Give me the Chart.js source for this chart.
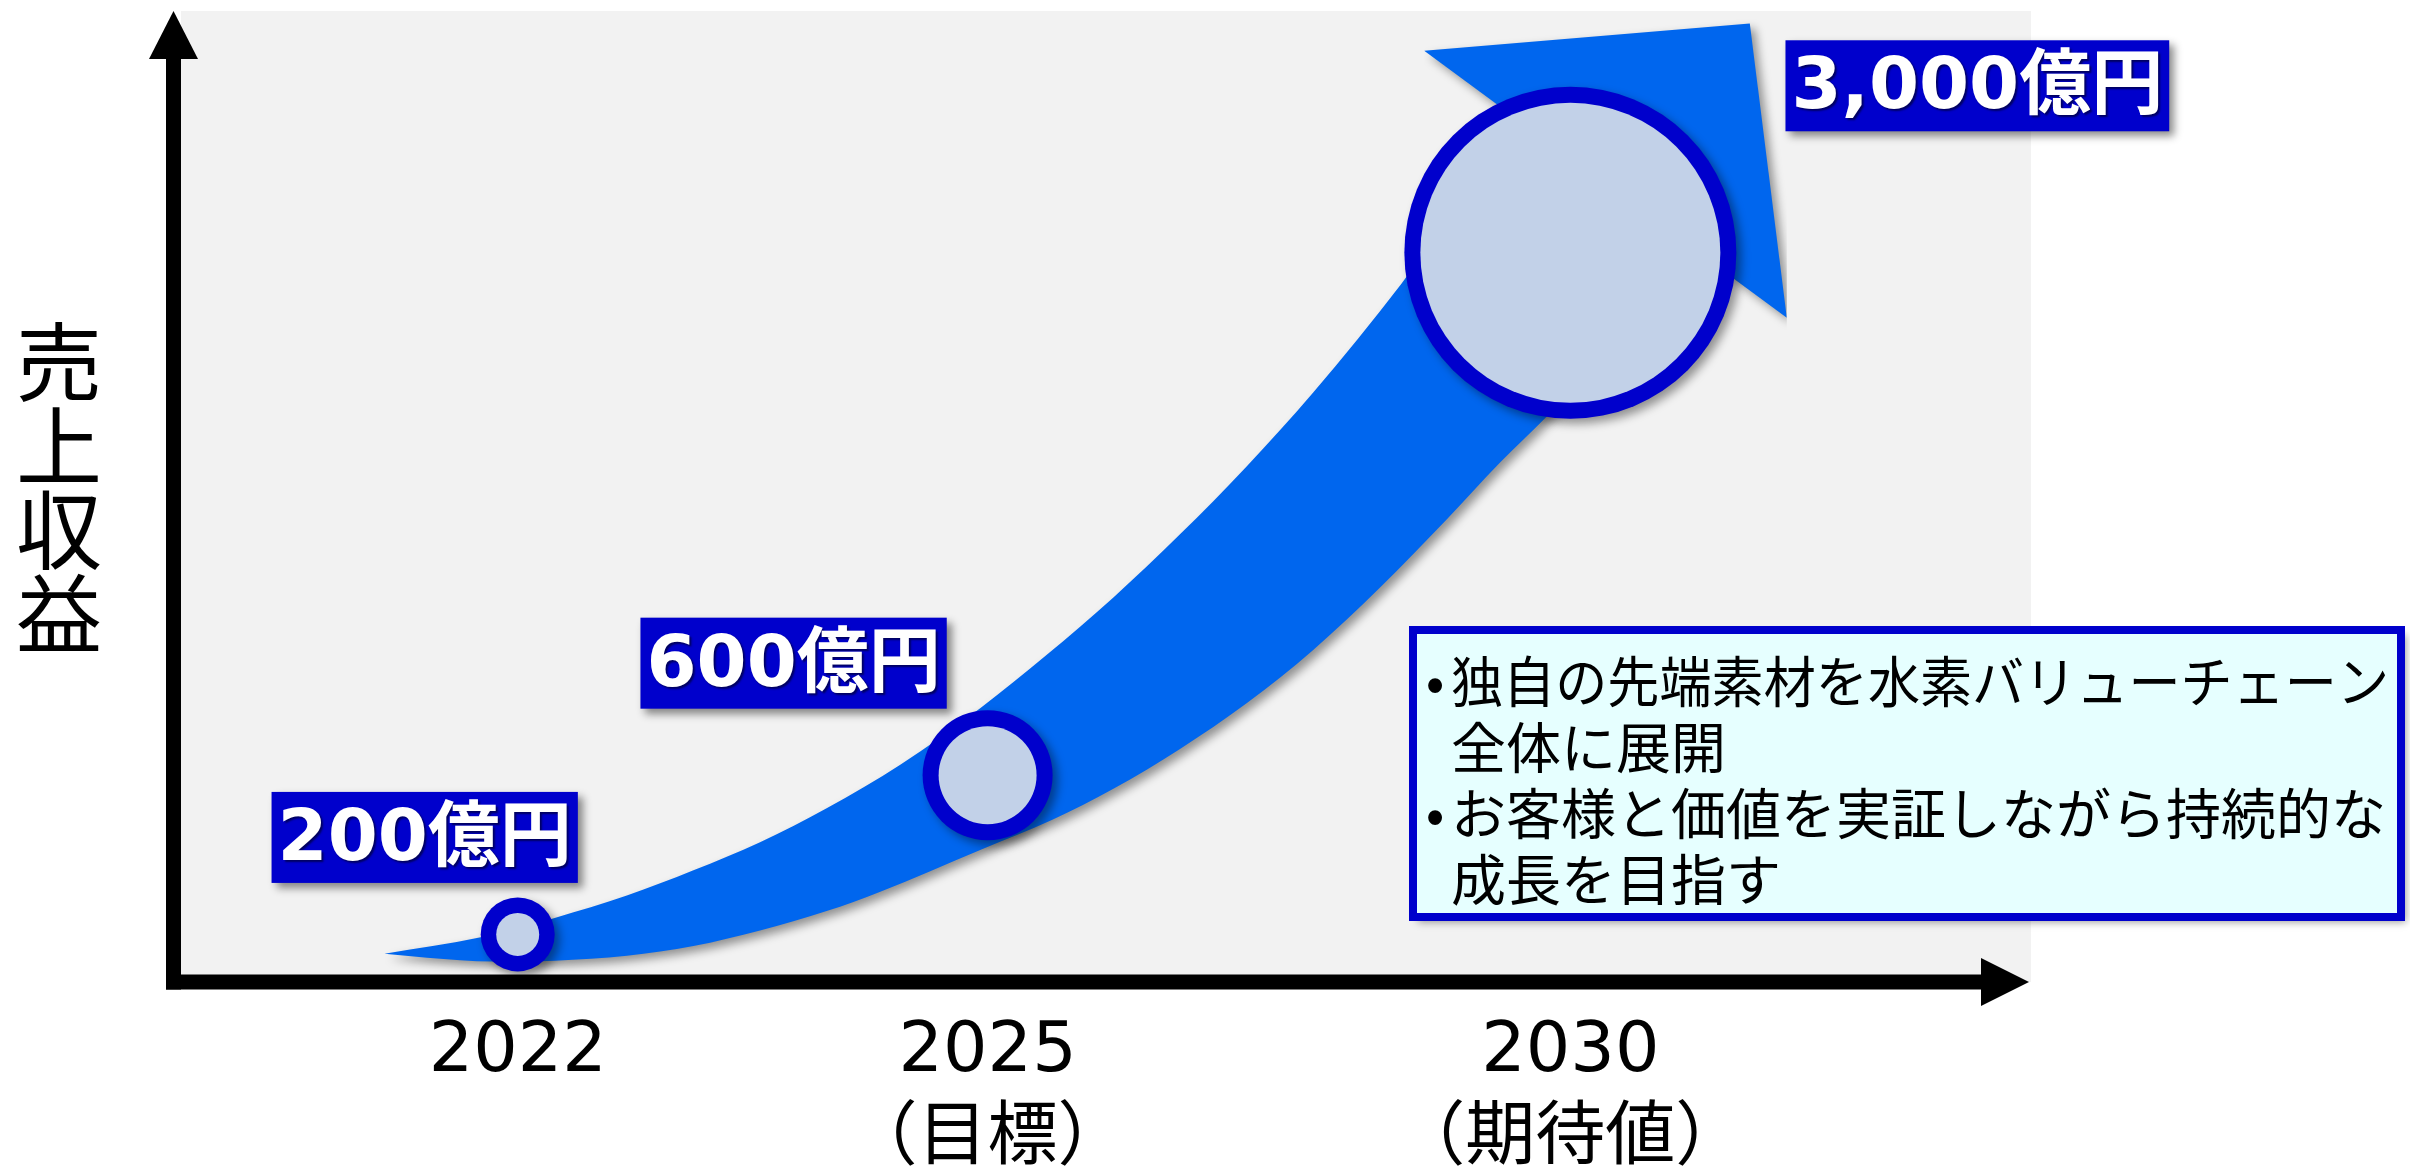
<!DOCTYPE html>
<html lang="ja">
<head>
<meta charset="utf-8">
<title>売上収益</title>
<script src="https://cdn.jsdelivr.net/npm/chart.js@4/dist/chart.umd.min.js"></script>
<style>
  html, body { margin: 0; padding: 0; background: #fff; }
  #wrap { width: 2410px; height: 1168px; position: relative; }
</style>
</head>
<body>
<div id="wrap"><canvas id="growthChart"></canvas></div>
<script>
const years = ["2022", "2025", "2030"];
const yearNotes = ["", "（目標）", "（期待値）"];
const sales = [200, 600, 3000]; // 億円

// where each year's marker sits on the 0-100 grid of the drawing
const markerX = [18.2, 43.6, 75.1];
const markerY = [4.9, 21.3, 75.1];

// outline of the big growth arrow (same 0-100 grid)
// the last two upper points run along the base of the arrow head
const upperX = [11.0, 16.2, 20.2, 24.1, 27.7, 31.3, 34.9, 38.9, 43.2, 46.8, 50.4, 54.0, 57.6, 61.2, 66.0, 72.4, 82.1];
const upperY = [2.9, 4.6, 6.6, 8.9, 11.5, 14.4, 17.9, 22.4, 28.2, 33.7, 39.6, 46.1, 53.1, 60.7, 72.0, 88.7, 74.9];
const lowerX = [11.0, 13.3, 16.9, 20.2, 24.1, 27.7, 31.3, 34.9, 37.8, 43.2, 47.1, 50.4, 54.0, 57.6, 61.2, 64.8, 68.4, 71.3, 73.8, 82.1];
const lowerY = [2.9, 2.5, 2.1, 2.2, 2.7, 3.7, 5.3, 7.3, 9.3, 13.6, 16.7, 19.9, 24.0, 28.7, 34.2, 40.6, 47.6, 53.5, 58.2, 74.9];
const headTopX = [67.2, 84.8, 86.8];
const headTopY = [95.9, 98.7, 68.4];
const headBaseX = [67.2, 86.8];
const headBaseY = [95.9, 68.4];

const yTitle = "売上収益";
const noteLines = [
  "•独自の先端素材を水素バリューチェーン",
  "全体に展開",
  "•お客様と価値を実証しながら持続的な",
  "成長を目指す"
];

const ARROW_BLUE = "#0066EE";
const DARK_BLUE = "#0000CC";

function pts(xs, ys) {
  return xs.map((x, i) => ({ x: x, y: ys[i] }));
}

function edge(xs, ys, fill, curved) {
  return {
    type: "line",
    data: pts(xs, ys),
    borderWidth: 0,
    borderColor: "rgba(0,0,0,0)",
    backgroundColor: ARROW_BLUE,
    pointRadius: 0,
    cubicInterpolationMode: curved ? "monotone" : "default",
    tension: 0,
    fill: fill
  };
}

// label box offsets from each marker, in pixels
const boxOffset = [[-93, -97], [-194, -112], [407, -167]];

function drawAxes(chart) {
  const ctx = chart.ctx;
  const a = chart.chartArea;
  const w = 15;
  const cx = a.left - w / 2;
  const cy = a.bottom;
  ctx.fillStyle = "#000";
  ctx.fillRect(a.left - w, a.top + 46, w, cy + w / 2 - (a.top + 46));
  ctx.beginPath();
  ctx.moveTo(cx, a.top);
  ctx.lineTo(cx - 24.5, a.top + 48);
  ctx.lineTo(cx + 24.5, a.top + 48);
  ctx.closePath();
  ctx.fill();

  ctx.fillRect(a.left - w, cy - w / 2, a.right - 49 - (a.left - w), w);
  ctx.beginPath();
  ctx.moveTo(a.right - 2, cy);
  ctx.lineTo(a.right - 50, cy - 24);
  ctx.lineTo(a.right - 50, cy + 24);
  ctx.closePath();
  ctx.fill();
}

function drawTitle(chart) {
  const ctx = chart.ctx;
  const chars = [...yTitle];
  const pitch = 84;
  const mid = 488.5;
  ctx.save();
  ctx.font = '86px "Noto Sans CJK JP"';
  ctx.fillStyle = "#000";
  ctx.textAlign = "center";
  ctx.textBaseline = "middle";
  chars.forEach(function (c, i) {
    ctx.fillText(c, 59, mid + (i - (chars.length - 1) / 2) * pitch);
  });
  ctx.restore();
}

function drawValueBoxes(chart) {
  const ctx = chart.ctx;
  const x = chart.scales.x;
  const y = chart.scales.y;
  ctx.save();
  ctx.font = 'bold 72px "DejaVu Sans", "Noto Sans CJK JP"';
  ctx.textAlign = "center";
  ctx.textBaseline = "middle";
  for (let i = 0; i < sales.length; i++) {
    const text = sales[i].toLocaleString("en-US") + "億円";
    const cx = x.getPixelForValue(markerX[i]) + boxOffset[i][0];
    const cy = y.getPixelForValue(markerY[i]) + boxOffset[i][1];
    const w = ctx.measureText(text).width + 12;
    const h = 91;
    ctx.save();
    ctx.shadowColor = "rgba(0,0,0,0.45)";
    ctx.shadowBlur = 8;
    ctx.shadowOffsetX = 5;
    ctx.shadowOffsetY = 5;
    ctx.fillStyle = DARK_BLUE;
    ctx.fillRect(cx - w / 2, cy - h / 2, w, h);
    ctx.restore();

    ctx.save();
    ctx.shadowColor = "rgba(0,0,50,0.7)";
    ctx.shadowBlur = 2;
    ctx.shadowOffsetX = 2;
    ctx.shadowOffsetY = 2;
    ctx.fillStyle = "#fff";
    ctx.fillText(text, cx, cy + 4);
    ctx.restore();
  }
  ctx.restore();
}

function drawNote(chart) {
  const ctx = chart.ctx;
  const left = 1413, top = 630, w = 988, h = 287;
  ctx.save();
  ctx.shadowColor = "rgba(0,0,0,0.4)";
  ctx.shadowBlur = 8;
  ctx.shadowOffsetX = 5;
  ctx.shadowOffsetY = 5;
  ctx.fillStyle = "#E6FFFF";
  ctx.fillRect(left, top, w, h);
  ctx.restore();

  ctx.save();
  ctx.lineWidth = 8;
  ctx.strokeStyle = DARK_BLUE;
  ctx.strokeRect(left, top, w, h);

  ctx.font = '55px "Noto Sans CJK JP"';
  ctx.fillStyle = "#000";
  ctx.textBaseline = "middle";
  for (let i = 0; i < noteLines.length; i++) {
    let line = noteLines[i];
    const ly = 681 + i * 66;
    if (line.startsWith("•")) {
      ctx.textAlign = "center";
      ctx.fillText("•", 1435, ly);
      line = line.slice(1);
    }
    ctx.textAlign = "left";
    ctx.fillText(line, 1451, ly, 938);
  }
  ctx.restore();
}

const decor = {
  id: "decor",
  beforeDraw(chart) {
    const ctx = chart.ctx;
    const a = chart.chartArea;
    ctx.save();
    ctx.fillStyle = "#fff";
    ctx.fillRect(0, 0, chart.width, chart.height);
    ctx.fillStyle = "#F2F2F2";
    ctx.fillRect(a.left, a.top, a.right - a.left, a.bottom - a.top);
    ctx.restore();
  },
  beforeDatasetsDraw(chart) {
    const ctx = chart.ctx;
    ctx.save();
    ctx.shadowColor = "rgba(0,0,0,0.4)";
    ctx.shadowBlur = 10;
    ctx.shadowOffsetX = 5;
    ctx.shadowOffsetY = 5;
  },
  beforeDatasetDraw(chart, args) {
    // inner discs of the markers sit flat, no shadow
    if (args.index === 0) chart.ctx.shadowColor = "rgba(0,0,0,0)";
  },
  afterDatasetsDraw(chart) {
    chart.ctx.restore();
    drawAxes(chart);
    drawTitle(chart);
    drawValueBoxes(chart);
    drawNote(chart);
  }
};

const markerPts = pts(markerX, markerY);

new Chart(document.getElementById("growthChart"), {
  type: "scatter",
  data: {
    datasets: [
      {
        data: markerPts,
        pointRadius: [21.5, 49, 150],
        pointBackgroundColor: "#C2D1E8",
        pointBorderWidth: 0
      },
      {
        data: markerPts,
        pointRadius: [37, 65, 166],
        pointBackgroundColor: DARK_BLUE,
        pointBorderWidth: 0
      },
      edge(lowerX, lowerY, false, true),
      edge(upperX, upperY, "-1", true),
      edge(headBaseX, headBaseY, false, false),
      edge(headTopX, headTopY, "-1", false)
    ]
  },
  options: {
    responsive: true,
    maintainAspectRatio: false,
    animation: false,
    events: [],
    layout: { autoPadding: false, padding: { left: 181, right: 379, top: 11, bottom: 0 } },
    plugins: {
      legend: { display: false },
      tooltip: { enabled: false }
    },
    scales: {
      x: {
        type: "linear",
        min: 0,
        max: 100,
        afterBuildTicks: function (axis) {
          axis.ticks = markerX.map(function (v) { return { value: v }; });
        },
        afterFit: function (axis) {
          axis.height = 186;
        },
        grid: { display: false, drawTicks: false },
        border: { display: false },
        ticks: {
          autoSkip: false,
          maxRotation: 0,
          padding: 27,
          color: "#000",
          font: { family: '"DejaVu Sans", "Noto Sans CJK JP"', size: 70, lineHeight: 1.26 },
          callback: function (value, index) {
            return yearNotes[index] ? [years[index], yearNotes[index]] : years[index];
          }
        }
      },
      y: {
        type: "linear",
        min: 0,
        max: 100,
        display: false
      }
    }
  },
  plugins: [decor]
});
</script>
</body>
</html>
